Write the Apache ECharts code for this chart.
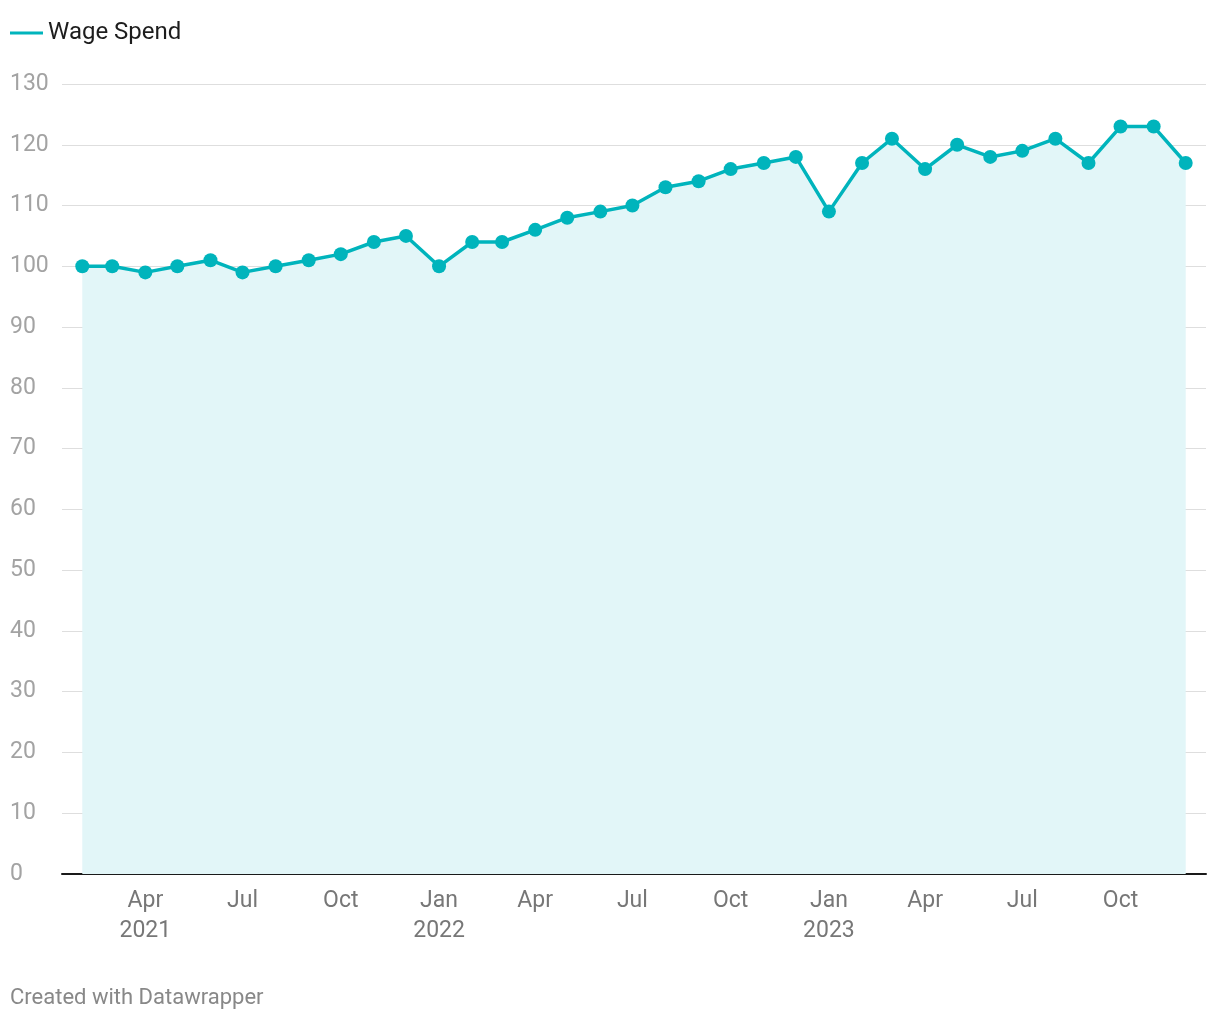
<!DOCTYPE html>
<html>
<head>
<meta charset="utf-8">
<script src="https://cdn.jsdelivr.net/npm/echarts@6/dist/echarts.min.js"></script>
<style>
  html, body { margin: 0; padding: 0; background: #fff; }
  #chart { width: 1220px; height: 1020px; }
</style>
</head>
<body>
<div id="chart"></div>
<script>
// monthly wage spend index, Feb 2021 - Dec 2023
const months = [
  '2021-02', '2021-03', '2021-04', '2021-05', '2021-06', '2021-07', '2021-08', '2021-09', '2021-10', '2021-11', '2021-12',
  '2022-01', '2022-02', '2022-03', '2022-04', '2022-05', '2022-06', '2022-07', '2022-08', '2022-09', '2022-10', '2022-11', '2022-12',
  '2023-01', '2023-02', '2023-03', '2023-04', '2023-05', '2023-06', '2023-07', '2023-08', '2023-09', '2023-10', '2023-11', '2023-12'
]
const wageSpend = [
  100, 100, 99, 100, 101, 99, 100, 101, 102, 104, 105,
  100, 104, 104, 106, 108, 109, 110, 113, 114, 116, 117, 118,
  109, 117, 121, 116, 120, 118, 119, 121, 117, 123, 123, 117
]
const tickMonths = ['2021-04', '2021-07', '2021-10', '2022-01', '2022-04', '2022-07', '2022-10', '2023-01', '2023-04', '2023-07', '2023-10']
const tickLabels = ['Apr\n2021', 'Jul', 'Oct', 'Jan\n2022', 'Apr', 'Jul', 'Oct', 'Jan\n2023', 'Apr', 'Jul', 'Oct']

function toTime(ym, day) {
  const [y, m] = ym.split('-').map(Number)
  return Date.UTC(y, m - 1, day || 1)
}

const tickValues = tickMonths.map((m) => toTime(m))
const labelByTime = {}
tickValues.forEach((t, i) => { labelByTime[t] = tickLabels[i] })

const chart = echarts.init(document.getElementById('chart'))
const option = {
  animation: false,
  textStyle: { fontFamily: 'Roboto' },
  legend: {
    left: 5,
    top: 16,
    icon: 'rect',
    itemWidth: 33,
    itemHeight: 3,
    itemGap: 6,
    textStyle: { fontSize: 24, color: '#1d1d1d', fontFamily: 'Roboto' },
    data: ['Wage Spend']
  },
  grid: {
    left: 62,
    right: 14,
    top: 84,
    bottom: 146
  },
  xAxis: {
    // timestamps on a value axis so the quarter labels can be placed exactly
    type: 'value',
    min: toTime('2021-01', 13),
    max: toTime('2023-12', 20),
    axisLine: { show: true, lineStyle: { color: '#1a1a1a', width: 2 } },
    axisTick: { show: false },
    splitLine: { show: false },
    axisLabel: {
      customValues: tickValues,
      formatter: (v) => labelByTime[v] || '',
      fontSize: 23,
      color: '#777777',
      lineHeight: 30,
      margin: 12,
      hideOverlap: false
    }
  },
  yAxis: {
    type: 'value',
    min: 0,
    max: 130,
    interval: 10,
    axisLine: { show: false },
    axisTick: { show: false },
    splitLine: { lineStyle: { color: '#dedede', width: 1 } },
    axisLabel: {
      align: 'left',
      margin: 52,
      fontSize: 23,
      color: '#a3a3a3',
      padding: [4, 0, 0, 0]
    }
  },
  series: [
    {
      name: 'Wage Spend',
      type: 'line',
      data: months.map((m, i) => [toTime(m), wageSpend[i]]),
      symbol: 'circle',
      symbolSize: 14,
      showAllSymbol: true,
      color: '#00b4bc',
      lineStyle: { width: 3.5, color: '#00b4bc' },
      itemStyle: { color: '#00b4bc' },
      areaStyle: { color: '#e2f6f8', opacity: 1 },
      z: 3
    }
  ],
  graphic: [
    {
      type: 'text',
      left: 10,
      top: 987,
      style: {
        text: 'Created with Datawrapper',
        fontSize: 22,
        fill: '#888888',
        fontFamily: 'Roboto'
      }
    }
  ]
}
chart.setOption(option)
</script>
</body>
</html>
